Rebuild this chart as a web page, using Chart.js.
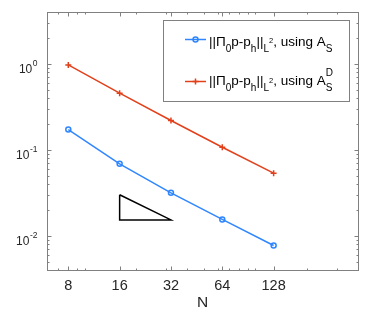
<!DOCTYPE html>
<html><head><meta charset="utf-8">
<script src="https://cdn.jsdelivr.net/npm/chart.js@4/dist/chart.umd.min.js"></script>
<style>html,body{margin:0;padding:0;background:#fff;overflow:hidden}</style>
</head><body>
<canvas id="c" width="373" height="321" style="width:373px;height:321px;display:block"></canvas>
<script>
// ---- data ----
const N = [8, 16, 32, 64, 128];
const errAS  = [0.172, 0.0687, 0.0316, 0.0155, 0.0077];
const errASD = [0.97, 0.455, 0.219, 0.107, 0.0535];
const triX = [16, 16, 32, 16];
const triY = [0.030, 0.0153, 0.0153, 0.030];
const xTickValues = [8, 16, 32, 64, 128];
const xTickLabels = ['8', '16', '32', '64', '128'];
const yTickValues = [1, 0.1, 0.01];
const yTickExps = ['0', '-1', '-2'];
const xTitle = 'N';
const seriesNames = ['||Π_0p-p_h||_{L^2}, using A_S', '||Π_0p-p_h||_{L^2}, using A_S^D'];

const BLUE = '#2f86ff', RED = '#e2401b', AX = '#808080';
const FONT = '"Liberation Sans", Arial, Helvetica, sans-serif';

function pts(xs, ys) { return xs.map((x, i) => ({x: x, y: ys[i]})); }

function rich(ctx, x, y, parts) {
  for (const p of parts) {
    ctx.font = p[1] + 'px ' + FONT;
    ctx.fillText(p[0], x, y + p[2]);
    if (!p[3]) x += ctx.measureText(p[0]).width;
  }
  return x;
}

const axesPlugin = {
  id: 'matlabAxes',
  afterDatasetsDraw(chart) {
    const ctx = chart.ctx, a = chart.chartArea;
    const xs = chart.scales.x, ys = chart.scales.y;
    ctx.save();
    ctx.strokeStyle = AX; ctx.lineWidth = 1;
    const L = Math.round(a.left) + 0.5, R = Math.round(a.right) + 0.5;
    const T = Math.round(a.top) + 0.5, B = Math.round(a.bottom) + 0.5;
    ctx.strokeRect(L, T, R - L, B - T);
    ctx.beginPath();
    // y ticks
    for (let e = -3; e <= 0; e++) {
      for (let m = 1; m <= 9; m++) {
        const v = m * Math.pow(10, e);
        if (v < 0.004 || v > 4) continue;
        const py = Math.round(ys.getPixelForValue(v)) + 0.5;
        const len = (m === 1) ? 4 : 2;
        ctx.moveTo(L, py); ctx.lineTo(L + len, py);
        ctx.moveTo(R, py); ctx.lineTo(R - len, py);
      }
    }
    // x minor ticks
    const xMinor = [7, 9, 10, 20, 30, 40, 50, 60, 70, 80, 90, 100, 200, 300];
    for (const v of xMinor) {
      const px = Math.round(xs.getPixelForValue(v)) + 0.5;
      ctx.moveTo(px, B); ctx.lineTo(px, B - 2);
      ctx.moveTo(px, T); ctx.lineTo(px, T + 2);
    }
    for (const v of xTickValues) {
      const px = Math.round(xs.getPixelForValue(v)) + 0.5;
      ctx.moveTo(px, B); ctx.lineTo(px, B - 4);
      ctx.moveTo(px, T); ctx.lineTo(px, T + 4);
    }
    ctx.stroke();

    // tick labels
    ctx.fillStyle = '#262626';
    ctx.textBaseline = 'alphabetic';
    ctx.textAlign = 'center';
    ctx.font = '14.5px ' + FONT;
    xTickValues.forEach((v, i) => {
      ctx.fillText(xTickLabels[i], xs.getPixelForValue(v), a.bottom + 20);
    });
    ctx.font = '15.5px ' + FONT;
    ctx.fillText(xTitle, (a.left + a.right) / 2, a.bottom + 37);

    ctx.textAlign = 'left';
    yTickValues.forEach((v, i) => {
      const py = ys.getPixelForValue(v);
      ctx.font = '8.5px ' + FONT;
      const wS = ctx.measureText(yTickExps[i]).width;
      ctx.font = '12px ' + FONT;
      const wB = ctx.measureText('10').width;
      const right = a.left - 10;
      const x0 = right - wS - wB;
      ctx.fillText('10', x0, py + 9.5);
      ctx.font = '8.5px ' + FONT;
      ctx.fillText(yTickExps[i], x0 + wB + 0.5, py + 2.5);
    });

    // legend
    const bx = 163.5, by = 20.5, bw = 186, bh = 81;
    ctx.fillStyle = '#fff';
    ctx.fillRect(bx, by, bw, bh);
    ctx.strokeStyle = AX;
    ctx.strokeRect(bx, by, bw, bh);

    const rows = [
      {y: 39.5, color: BLUE, style: 'circle'},
      {y: 81.5, color: RED, style: 'cross'}
    ];
    rows.forEach((r, i) => {
      ctx.strokeStyle = r.color; ctx.lineWidth = 1.5;
      ctx.beginPath(); ctx.moveTo(185, r.y); ctx.lineTo(206, r.y); ctx.stroke();
      ctx.beginPath();
      if (r.style === 'circle') {
        ctx.arc(195.5, r.y, 2.5, 0, Math.PI * 2);
      } else {
        ctx.moveTo(192.5, r.y); ctx.lineTo(198.5, r.y);
        ctx.moveTo(195.5, r.y - 3); ctx.lineTo(195.5, r.y + 3);
      }
      ctx.stroke();
    });
    ctx.fillStyle = '#000';
    const m = 13.5, s = 10, ss = 7.5;
    const base = [
      ['||', m, 0], ['Π', m, 0], ['0', s, 6], ['p-p', m, 0], ['h', s, 6],
      ['||', m, 0], ['L', s, 6], ['2', ss, -2.5], [', using A', m, 0]
    ];
    rich(ctx, 209, 45.5, base.concat([['S', s, 6.5]]));
    rich(ctx, 209, 85, base.concat([['D', s, -9.5, true], ['S', s, 6]]));
    ctx.restore();
  }
};

new Chart(document.getElementById('c'), {
  type: 'line',
  data: {
    datasets: [
      {
        label: seriesNames[0], data: pts(N, errAS),
        borderColor: BLUE, backgroundColor: '#fff', borderWidth: 1.5,
        pointStyle: 'circle', pointRadius: 2.5, pointBorderWidth: 1.5,
        pointBorderColor: BLUE, pointBackgroundColor: 'rgba(0,0,0,0)', tension: 0
      },
      {
        label: seriesNames[1], data: pts(N, errASD),
        borderColor: RED, backgroundColor: RED, borderWidth: 1.5,
        pointStyle: 'cross', pointRadius: 3, pointBorderWidth: 1.5,
        pointBorderColor: RED, tension: 0
      },
      {
        label: 'slope', data: pts(triX, triY),
        borderColor: '#000', borderWidth: 1.5, pointRadius: 0, tension: 0
      }
    ]
  },
  options: {
    responsive: false, animation: false, devicePixelRatio: 1,
    layout: {padding: {left: 47, top: 12, right: 15, bottom: 51}},
    plugins: {legend: {display: false}, tooltip: {enabled: false}},
    scales: {
      x: {type: 'logarithmic', min: 6, max: 400, display: false},
      y: {type: 'logarithmic', min: 0.004, max: 4, display: false}
    }
  },
  plugins: [axesPlugin]
});
</script>
</body></html>
